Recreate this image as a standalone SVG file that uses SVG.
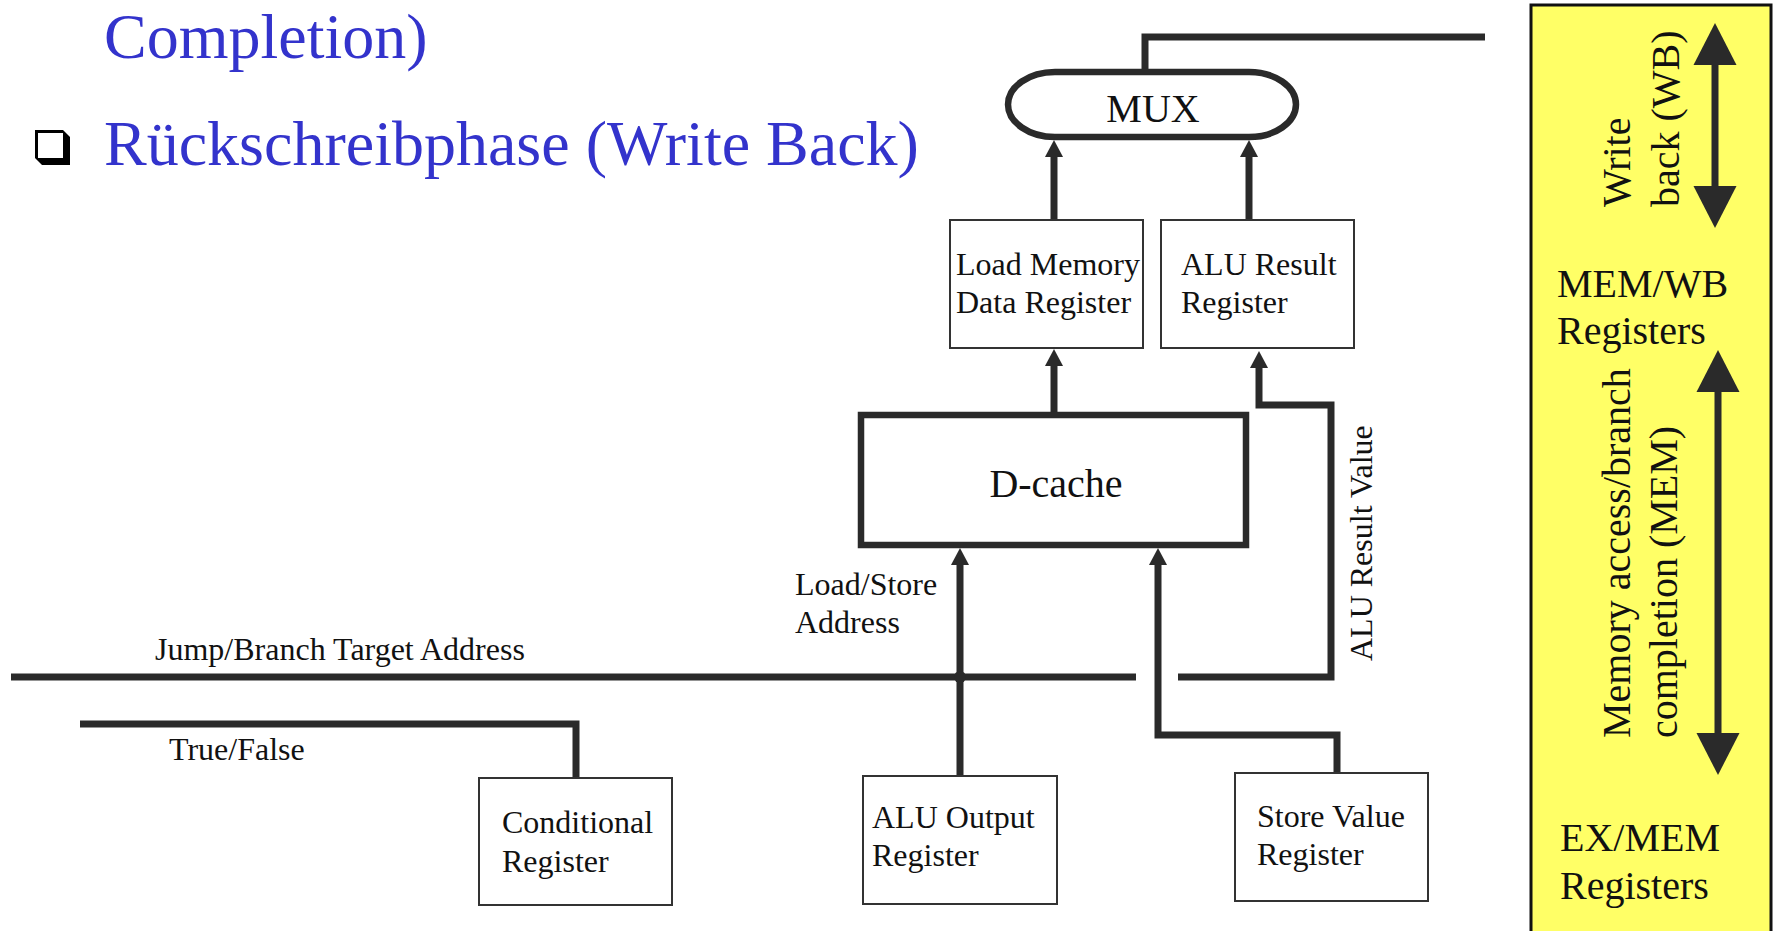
<svg xmlns="http://www.w3.org/2000/svg" width="1776" height="931" viewBox="0 0 1776 931">
  <style>
    .serif { font-family: "Liberation Serif", "Times New Roman", serif; fill: #111; }
    .title { font-family: "Liberation Serif", "Times New Roman", serif; font-size: 64px; fill: #3333CC; }
    .lbl { font-size: 32px; }
    .big { font-size: 40px; }
    .box { fill: #fff; stroke: #333; stroke-width: 2; }
    .thick { fill: #fff; stroke: #2a2a2a; stroke-width: 6.5; }
    .wire { fill: none; stroke: #2a2a2a; stroke-width: 7; stroke-linejoin: miter; }
    .span { fill: none; stroke: #2a2a2a; stroke-width: 7; }
  </style>
  <defs>
    <marker id="head" markerUnits="userSpaceOnUse" markerWidth="18" markerHeight="18" refX="0" refY="9" orient="auto" overflow="visible">
      <path d="M0,0 L17,9 L0,18 Z" fill="#2a2a2a"/>
    </marker>
    <marker id="bighead" markerUnits="userSpaceOnUse" markerWidth="43" markerHeight="43" refX="0" refY="21.5" orient="auto-start-reverse" overflow="visible">
      <path d="M0,0 L42,21.5 L0,43 Z" fill="#2a2a2a"/>
    </marker>
  </defs>

  <rect x="0" y="0" width="1776" height="931" fill="#fff"/>

  <!-- Heading text -->
  <g id="heading">
    <text class="title" x="104" y="58">Completion)</text>
    <path d="M35,130 L63,130 L70,137 L70,165 L42,165 L35,158 Z" fill="#000"/>
    <rect x="38" y="133" width="25" height="25" fill="#fff"/>
    <text class="title" x="104" y="165">Rückschreibphase (Write Back)</text>
  </g>

  <!-- Stage panel -->
  <g id="stage-panel">
    <rect x="1531" y="5" width="240" height="940" fill="#FFFF66" stroke="#111" stroke-width="3"/>
    <line class="span" x1="1715" y1="65" x2="1715" y2="186" marker-start="url(#bighead)" marker-end="url(#bighead)"/>
    <line class="span" x1="1718" y1="392" x2="1718" y2="733" marker-start="url(#bighead)" marker-end="url(#bighead)"/>
    <text class="serif big" transform="translate(1630,207) rotate(-90)">Write</text>
    <text class="serif big" transform="translate(1679,207) rotate(-90)">back (WB)</text>
    <text class="serif big" x="1557" y="297">MEM/WB</text>
    <text class="serif big" x="1557" y="344">Registers</text>
    <text class="serif big" transform="translate(1630,738) rotate(-90)">Memory access/branch</text>
    <text class="serif big" transform="translate(1677,738) rotate(-90)">completion (MEM)</text>
    <text class="serif big" x="1560" y="851">EX/MEM</text>
    <text class="serif big" x="1560" y="899">Registers</text>
  </g>

  <!-- Connectors -->
  <g id="connectors">
    <polyline class="wire" points="1145,72 1145,37 1485,37"/>
    <line class="wire" x1="1054" y1="220" x2="1054" y2="157" marker-end="url(#head)"/>
    <line class="wire" x1="1249" y1="220" x2="1249" y2="157" marker-end="url(#head)"/>
    <line class="wire" x1="1054" y1="412" x2="1054" y2="366" marker-end="url(#head)"/>
    <polyline class="wire" points="1178,677 1331,677 1331,405 1259,405 1259,368" marker-end="url(#head)"/>
    <line class="wire" x1="11" y1="677" x2="1136" y2="677"/>
    <line class="wire" x1="960" y1="776" x2="960" y2="565" marker-end="url(#head)"/>
    <circle cx="960" cy="677" r="6" fill="#2a2a2a"/>
    <polyline class="wire" points="1337,773 1337,735 1158,735 1158,565" marker-end="url(#head)"/>
    <polyline class="wire" points="80,724 576,724 576,778"/>
    <text class="serif lbl" x="155" y="660">Jump/Branch Target Address</text>
    <text class="serif lbl" x="169" y="760">True/False</text>
    <text class="serif lbl" x="795" y="595">Load/Store</text>
    <text class="serif lbl" x="795" y="633">Address</text>
    <text class="serif lbl" transform="translate(1372,661) rotate(-90)">ALU Result Value</text>
  </g>

  <!-- Nodes -->
  <g id="mux">
    <path class="thick" d="M1055,72 H1249 A47,32.5 0 0 1 1249,137 H1055 A47,32.5 0 0 1 1055,72 Z"/>
    <text class="serif big" x="1153" y="122" text-anchor="middle">MUX</text>
  </g>
  <g id="load-memory-data-register">
    <rect class="box" x="950" y="220" width="193" height="128"/>
    <text class="serif lbl" x="956" y="275">Load Memory</text>
    <text class="serif lbl" x="956" y="313">Data Register</text>
  </g>
  <g id="alu-result-register">
    <rect class="box" x="1161" y="220" width="193" height="128"/>
    <text class="serif lbl" x="1181" y="275">ALU Result</text>
    <text class="serif lbl" x="1181" y="313">Register</text>
  </g>
  <g id="d-cache">
    <rect class="thick" x="861" y="415" width="385" height="130"/>
    <text class="serif big" x="1056" y="497" text-anchor="middle">D-cache</text>
  </g>
  <g id="conditional-register">
    <rect class="box" x="479" y="778" width="193" height="127"/>
    <text class="serif lbl" x="502" y="833">Conditional</text>
    <text class="serif lbl" x="502" y="872">Register</text>
  </g>
  <g id="alu-output-register">
    <rect class="box" x="863" y="776" width="194" height="128"/>
    <text class="serif lbl" x="872" y="828">ALU Output</text>
    <text class="serif lbl" x="872" y="866">Register</text>
  </g>
  <g id="store-value-register">
    <rect class="box" x="1235" y="773" width="193" height="128"/>
    <text class="serif lbl" x="1257" y="827">Store Value</text>
    <text class="serif lbl" x="1257" y="865">Register</text>
  </g>
</svg>
